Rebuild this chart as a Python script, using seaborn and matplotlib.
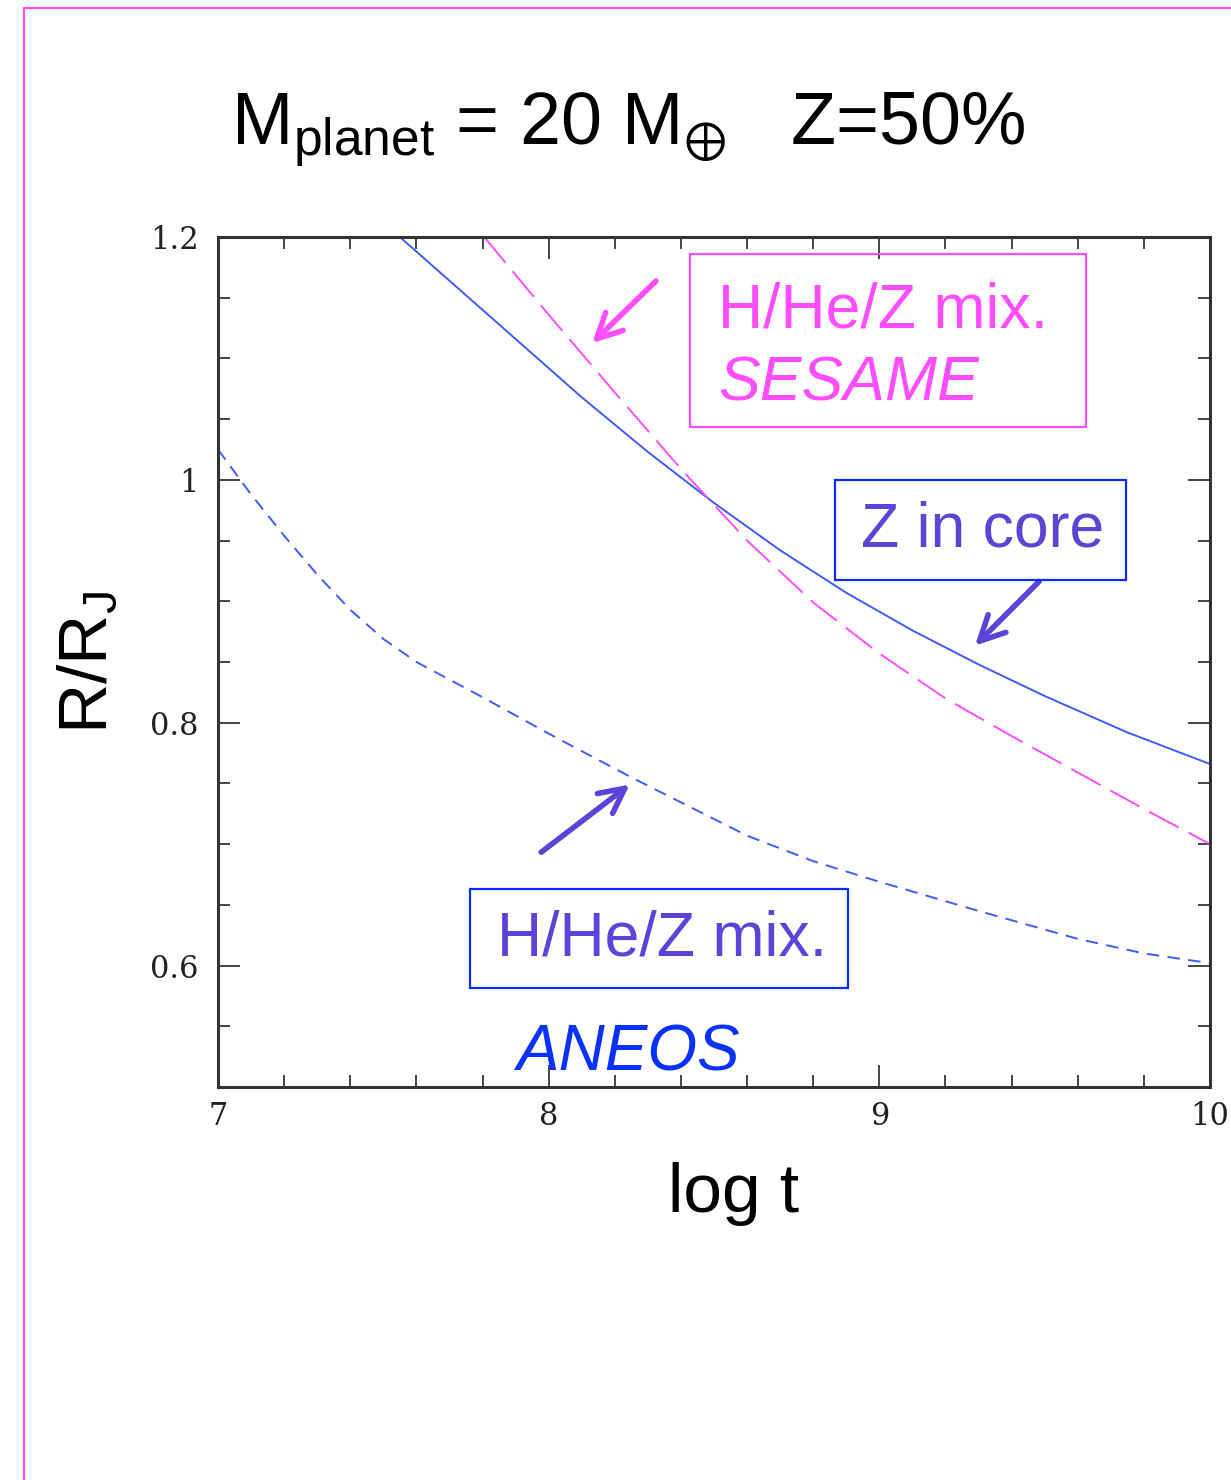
import numpy as np
import pandas as pd
import matplotlib
matplotlib.use('Agg')
import matplotlib.pyplot as plt
import matplotlib.patches as patches
import seaborn as sns

# curve values (log t, R/RJ)
t_core = [7.55, 7.80, 8.10, 8.30, 8.50, 8.70, 8.90, 9.10, 9.30, 9.50, 9.75, 10.0]
r_core = [1.200, 1.140, 1.068, 1.023, 0.981, 0.942, 0.907, 0.876, 0.848, 0.822, 0.792, 0.766]

t_sesame = [7.805, 8.0, 8.2, 8.4, 8.6, 8.8, 9.0, 9.2, 9.4, 9.6, 9.8, 10.0]
r_sesame = [1.200, 1.136, 1.072, 1.009, 0.950, 0.899, 0.857, 0.820, 0.789, 0.759, 0.729, 0.700]

t_aneos = [7.0, 7.1, 7.2, 7.3, 7.4, 7.5, 7.6, 7.8, 8.0, 8.25, 8.6, 8.8, 9.0, 9.3, 9.6, 9.8, 10.0]
r_aneos = [1.025, 0.988, 0.954, 0.922, 0.893, 0.869, 0.850, 0.821, 0.791, 0.755, 0.707,
           0.686, 0.669, 0.645, 0.622, 0.610, 0.602]

x_ticks = [7, 8, 9, 10]
y_ticks = [0.6, 0.8, 1.0, 1.2]
y_ticklabels = ['0.6', '0.8', '1', '1.2']

df_core = pd.DataFrame({'logt': t_core, 'R': r_core})
df_sesame = pd.DataFrame({'logt': t_sesame, 'R': r_sesame})
df_aneos = pd.DataFrame({'logt': t_aneos, 'R': r_aneos})

sns.set_style('ticks')
plt.rcParams['font.family'] = ['Liberation Sans', 'DejaVu Sans']
plt.rcParams['mathtext.fontset'] = 'custom'
plt.rcParams['mathtext.rm'] = 'Liberation Sans'
plt.rcParams['mathtext.it'] = 'Liberation Sans:italic'
plt.rcParams['lines.scale_dashes'] = False
plt.rcParams['text.color'] = 'black'
plt.rcParams['axes.labelcolor'] = 'black'

blue = '#3d5cff'
magenta = '#ff4dff'
purple = '#5a45d8'
boxblue = '#0a2bff'

fig = plt.figure(figsize=(12.31, 14.80), dpi=100)
ax = fig.add_axes([218/1231, 1 - 1087/1480, 992/1231, 850/1480])

sns.lineplot(data=df_core, x='logt', y='R', ax=ax, color=blue, lw=1.4)
sns.lineplot(data=df_sesame, x='logt', y='R', ax=ax, color=magenta, lw=1.4,
             linestyle=(0, (24, 8)))
sns.lineplot(data=df_aneos, x='logt', y='R', ax=ax, color=blue, lw=1.4,
             linestyle=(0, (9, 6)))

ax.set_xlim(7, 10)
ax.set_ylim(0.5, 1.2)
ax.set_xticks(x_ticks)
ax.set_xticklabels([str(v) for v in x_ticks])
ax.set_yticks(y_ticks)
ax.set_yticklabels(y_ticklabels)
ax.set_xticks(np.arange(7, 10.01, 0.2), minor=True)
ax.set_yticks(np.arange(0.5, 1.201, 0.05), minor=True)

for s in ax.spines.values():
    s.set_linewidth(2.2)
    s.set_color('#333333')
ax.tick_params(which='both', direction='in', top=True, right=True,
               color='#444444', width=1.4)
ax.tick_params(which='major', length=16)
ax.tick_params(which='minor', length=8.5)
ax.tick_params(axis='y', which='major', pad=14)
ax.tick_params(axis='x', which='major', pad=10)
for lab in ax.get_xticklabels() + ax.get_yticklabels():
    lab.set_family('DejaVu Serif')
    lab.set_fontsize(22)
    lab.set_color('#222222')

ax.set_xlabel('log t', fontsize=50)
ax.set_ylabel(r'R/R$_\mathregular{J}$', fontsize=50)
ax.xaxis.set_label_coords(0.52, -0.088)
ax.yaxis.set_label_coords(-0.098, 0.5)

# annotation boxes
def px2data(px, py):
    return 7 + (px - 218) / 330.67, 1.2 - (py - 237) * 0.2 / 242.5

def box(x0, y0, x1, y1, ec):
    a = px2data(x0, y1)
    b = px2data(x1, y0)
    ax.add_patch(patches.Rectangle(a, b[0] - a[0], b[1] - a[1], fill=False,
                                   ec=ec, lw=1.6, clip_on=False, zorder=5))

box(690, 254, 1086, 427, magenta)
box(835, 480, 1126, 579, boxblue)
box(470, 888, 848, 987, boxblue)

ax.text(*px2data(718, 327), 'H/He/Z mix.', color=magenta, fontsize=45, va='baseline')
ax.text(*px2data(718, 400), 'SESAME', color=magenta, fontsize=45, style='italic', va='baseline')
ax.text(*px2data(983, 530), 'Z in core', color=purple, fontsize=45, ha='center', va='center')
ax.text(*px2data(662, 938), 'H/He/Z mix.', color=purple, fontsize=45, ha='center', va='center')
ax.text(*px2data(516, 1069), 'ANEOS', color='#0a32ff', fontsize=46, style='italic', va='baseline')

arrow = dict(arrowstyle='->', lw=4, mutation_scale=45)
ax.annotate('', xy=px2data(590, 345), xytext=px2data(658, 279),
            arrowprops=dict(color=magenta, **arrow))
ax.annotate('', xy=px2data(973, 647), xytext=px2data(1041, 579),
            arrowprops=dict(color=purple, **arrow))
ax.annotate('', xy=px2data(632, 782), xytext=px2data(539, 853),
            arrowprops=dict(color=purple, **arrow))

# title
fig.text(0.510, 1 - 145/1480,
         r'$\mathregular{M_{planet}}$ = 20 $\mathregular{M_{\oplus}}$   Z=50%',
         fontsize=53, ha='center', va='baseline')

# magenta frame around the slide
fig.add_artist(patches.Rectangle((24/1231, -0.1), 2, 1.1 - 8/1480, fill=False,
                                 ec=magenta, lw=1.5, transform=fig.transFigure))

fig.savefig('out.png', dpi=100)
